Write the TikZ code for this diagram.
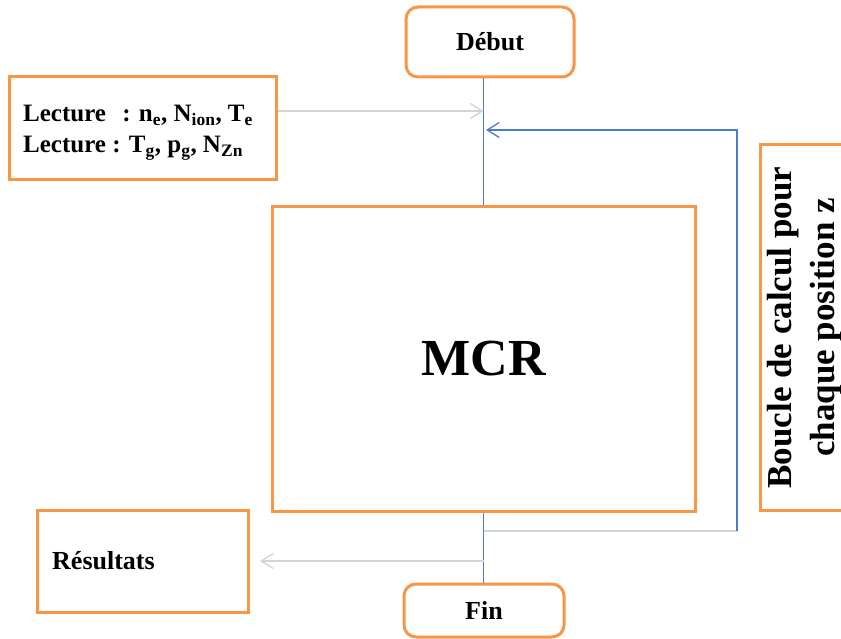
\documentclass[tikz,border=0pt]{standalone}
\usepackage{fontspec}
\setmainfont{Liberation Serif}
\usetikzlibrary{arrows.meta}
\definecolor{boxorange}{HTML}{F79646}
\definecolor{flowblue}{HTML}{4A7CCF}
\definecolor{flowgray}{HTML}{D4D4D4}
\tikzset{
  box/.style={draw=boxorange, line width=3pt, fill=white, inner sep=0pt, font=\bfseries},
  termbox/.style={box, rounded corners=12pt},
  label/.style={inner sep=0pt, align=left, font=\bfseries\fontsize{25}{31}\selectfont},
  blueline/.style={draw=flowblue, line width=1.4pt},
  grayline/.style={draw=flowgray, line width=1.3pt},
  barb/.style={-{Straight Barb[length=12pt,width=15pt,line width=1.3pt]}},
}
\begin{document}
\begin{tikzpicture}[x=1pt,y=-1pt]
\clip (0,0) rectangle (841,639);
\fill[white] (0,0) rectangle (841,639);

% terminals
\node[termbox, minimum width=168pt, minimum height=70pt, font=\bfseries\fontsize{26}{30}\selectfont]
  (start) at (490,42) {Début};
\node[termbox, minimum width=160pt, minimum height=53pt, font=\bfseries\fontsize{26}{30}\selectfont]
  (end) at (484,610.5) {Fin};

% input box and its two lines
\node[box, minimum width=267pt, minimum height=103pt] (read) at (142.5,128.5) {};
\node[label, anchor=west] (readtxt) at (23,133)
  {Lecture\hspace{0.4em} : n\textsubscript{e}, N\textsubscript{ion}, T\textsubscript{e}\\
   Lecture : T\textsubscript{g}, p\textsubscript{g}, N\textsubscript{Zn}};

% main computation
\node[box, minimum width=423pt, minimum height=304pt, font=\bfseries\fontsize{52}{60}\selectfont]
  (mcr) at (483.5,359) {MCR};

% results
\node[box, minimum width=211pt, minimum height=102pt] (res) at (142.5,561) {};
\node[label, anchor=west, font=\bfseries\fontsize{26}{30}\selectfont] (restxt) at (52,561) {Résultats};

% loop label
\node[box, rotate=90, minimum width=365pt, minimum height=90pt, align=center,
  font=\bfseries\fontsize{35}{43}\selectfont]
  (loop) at (805,327.5) {Boucle de calcul pour\\chaque position z};

% connector points
\coordinate (inTip) at (483.5,111);
\coordinate (backTip) at (486,130);
\coordinate (loopOut) at (483.5,531);
\coordinate (loopRight) at (737,531);
\coordinate (loopTop) at (737,130);
\coordinate (outFrom) at (483.5,561);
\coordinate (outTip) at (260,561);

% main flow
\draw[blueline] (start.south -| mcr.north) -- (mcr.north);
\draw[blueline] (mcr.south) -- (end.north -| mcr.south);

% inputs and outputs
\draw[grayline, barb] (read.east |- inTip) -- (inTip);
\draw[grayline, barb] (outFrom) -- (outTip);

% loop back
\draw[grayline] (loopOut) -- (loopRight);
\draw[blueline, barb] (loopRight) -- (loopTop) -- (backTip);
\end{tikzpicture}
\end{document}
